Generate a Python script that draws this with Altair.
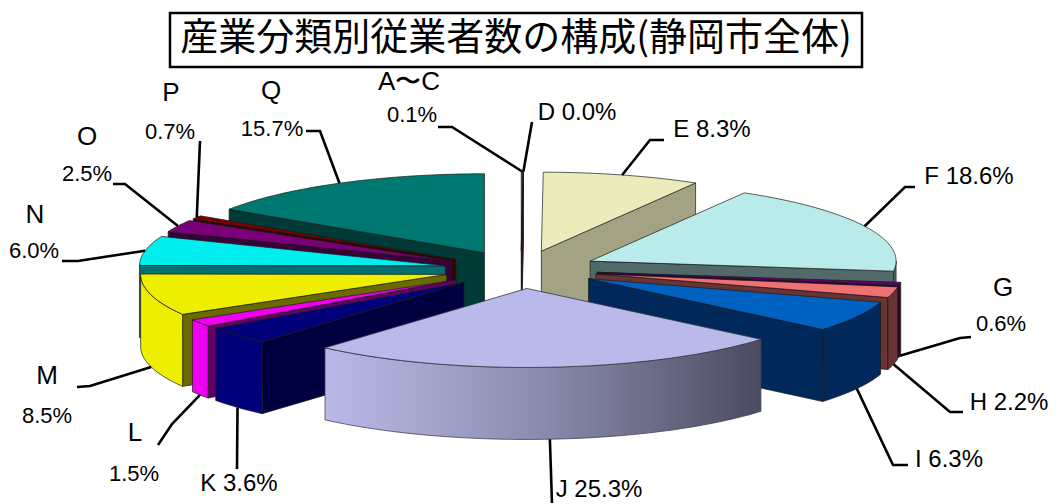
import math
import altair as alt

# ---- data ----
codes = ["A~C", "D", "E", "F", "G", "H", "I", "J", "K", "L", "M", "N", "O", "P", "Q"]
shares = [0.1, 0.0, 8.3, 18.6, 0.6, 2.2, 6.3, 25.3, 3.6, 1.5, 8.5, 6.0, 2.5, 0.7, 15.7]
title_text = "産業分類別従業者数の構成(静岡市全体)"

# ---- styles ----
top_colors = ["#7a2060", "#7a2060", "#ecebbb", "#b9ebea", "#66006e", "#ee7272", "#0062c0", "#b9b9ea",
              "#00007a", "#f000f0", "#eeee00", "#00eeee", "#7a007a", "#7a0000", "#007872"]
cut_colors = ["#3a1030", "#3a1030", "#a3a383", "#52696a", "#33003a", "#6a3434", "#00285a", "#5a5a78",
              "#000040", "#660066", "#6a6a00", "#007070", "#3a003a", "#3a0000", "#003a36"]
rim_colors = ["#3a1030", "#3a1030", "#a3a383", "#52696a", "#33003a", "#6a3434", "#00285a", "#8c8cb0",
              "#00007a", "#f000f0", "#eeee00", "#00eeee", "#7a007a", "#7a0000", "#003a36"]
draw_order = ["Q", "A~C", "D", "E", "F", "G", "H", "I", "P", "O", "N", "M", "L", "K", "J"]

# ---- pie projection (page pixels) ----
CX, CY, RX, RY, DEPTH, EX, EY = 521.0, 269.5, 306.0, 79.0, 72.0, 77.0, 19.0
TOTAL = sum(shares)

cum = []
run = 0.0
for s in shares:
    cum.append((run, run + s))
    run += s
spans = {c: (a / TOTAL * 360.0, b / TOTAL * 360.0) for c, (a, b) in zip(codes, cum)}


def apex(code):
    a, b = spans[code]
    m = math.radians((a + b) / 2)
    return (CX + EX * math.sin(m), CY - EY * math.cos(m))


def rim(code, deg, drop=0.0):
    ax, ay = apex(code)
    t = math.radians(deg)
    return [ax + RX * math.sin(t), ay - RY * math.cos(t) + drop]


def arc(code, a, b, drop=0.0):
    n = max(2, int(abs(b - a)) + 2)
    return [rim(code, a + (b - a) * i / (n - 1), drop) for i in range(n)]


def poly(points, fill):
    ring = [list(p) for p in points]
    ring.append(ring[0])
    return {"type": "Feature", "properties": {"fill": fill},
            "geometry": {"type": "Polygon", "coordinates": [ring]}}


def cut_face(code, deg, fill):
    ax, ay = apex(code)
    return poly([[ax, ay], rim(code, deg), rim(code, deg, DEPTH), [ax, ay + DEPTH]], fill)


back_features, j_wall, j_top = [], [], []
for code in draw_order:
    i = codes.index(code)
    a, b = spans[code]
    faces = []
    if a > 180:
        faces.append(cut_face(code, a, cut_colors[i]))
    if b < 180:
        faces.append(cut_face(code, b, cut_colors[i]))
    lo, hi = max(a, 90.0), min(b, 270.0)
    wall = None
    if hi > lo:
        wall = poly(arc(code, lo, hi) + arc(code, hi, lo, DEPTH), rim_colors[i])
    top = poly([list(apex(code))] + arc(code, a, b), top_colors[i])
    if code == "J":
        j_wall.append(wall)
        j_top.append(top)
    else:
        back_features += faces + ([wall] if wall else []) + [top]

# ---- leader lines: two layout points by the label, third point on the slice ----
leader_elbows = {
    "A~C": [(438, 127), (452, 127)], "D": [(532, 122), (532, 122)], "E": [(664, 140), (650, 140)],
    "F": [(915, 187), (905, 187)], "G": [(971, 337), (960, 338)], "H": [(963, 412), (950, 412)],
    "I": [(908, 465), (893, 465)], "J": [(552, 503), (552, 503)], "K": [(237, 469), (237, 469)],
    "L": [(158, 445), (172, 424)], "M": [(77, 387), (90, 386)], "N": [(62, 261), (78, 261)],
    "O": [(113, 184), (125, 184)], "P": [(200, 141), (200, 141)], "Q": [(306, 131), (320, 131)],
}
leaders = []
for code in codes:
    a, b = spans[code]
    m = (a + b) / 2
    end = rim(code, m, DEPTH if 90 < m < 270 else 0.0)
    pts = [list(p) for p in leader_elbows[code]] + [end]
    leaders.append({"type": "Feature", "properties": {"code": code},
                    "geometry": {"type": "LineString", "coordinates": pts}})

# ---- label layout (page pixels, centre of each text) ----
letter_rows = [("A〜C", 409, 82), ("G", 1003, 288), ("L", 135, 433), ("M", 47, 376), ("N", 35, 215),
               ("O", 87, 137), ("P", 171, 93), ("Q", 271, 91)]
pair_rows = [("D 0.0%", 577, 113), ("E 8.3%", 712, 130), ("F 18.6%", 969, 177), ("H 2.2%", 1009, 403),
             ("I 6.3%", 949, 460), ("J 25.3%", 599, 490), ("K 3.6%", 239, 484)]
share_rows = [("0.1%", 412, 115), ("0.6%", 1001, 324), ("1.5%", 134, 474), ("8.5%", 47, 416),
              ("6.0%", 34, 251), ("2.5%", 87, 174), ("0.7%", 170, 132), ("15.7%", 272, 129)]

proj = dict(type="identity", scale=1, translate=[-8, -8])
none_x = alt.X("x:Q", scale=None, axis=None)
none_y = alt.Y("y:Q", scale=None, axis=None)


def text_layer(rows, size):
    vals = [{"t": t, "x": x - 8, "y": y - 8} for t, x, y in rows]
    return (
        alt.Chart(alt.InlineData(values=vals))
        .mark_text(font="Liberation Sans", fontSize=size, color="#000000", align="center", baseline="middle")
        .encode(x=none_x, y=none_y, text="t:N")
    )


base_layer = (
    alt.Chart(alt.InlineData(values=back_features))
    .mark_geoshape(stroke="#1a1a1a", strokeWidth=0.7)
    .encode(fill=alt.Fill("properties.fill:N", scale=None, legend=None))
    .project(**proj)
)
j_wall_layer = (
    alt.Chart(alt.InlineData(values=j_wall))
    .mark_geoshape(
        stroke="#444455", strokeWidth=0.8,
        fill=alt.Gradient(
            gradient="linear", x1=0, x2=1, y1=0, y2=0,
            stops=[
                alt.GradientStop(color="#b9b9e8", offset=0),
                alt.GradientStop(color="#a3a3cb", offset=0.25),
                alt.GradientStop(color="#8a8aae", offset=0.5),
                alt.GradientStop(color="#6c6c88", offset=0.75),
                alt.GradientStop(color="#4a4a60", offset=1),
            ],
        ),
    )
    .project(**proj)
)
j_top_layer = (
    alt.Chart(alt.InlineData(values=j_top))
    .mark_geoshape(stroke="#333344", strokeWidth=0.8)
    .encode(fill=alt.Fill("properties.fill:N", scale=None, legend=None))
    .project(**proj)
)
leader_layer = (
    alt.Chart(alt.InlineData(values=leaders))
    .mark_geoshape(filled=False, stroke="#000000", strokeWidth=2.6)
    .project(**proj)
)
title_box = (
    alt.Chart(alt.InlineData(values=[{"x": 162, "x2": 854, "y": 5, "y2": 59}]))
    .mark_rect(fill="#ffffff", stroke="#000000", strokeWidth=2.5)
    .encode(x=none_x, x2="x2:Q", y=none_y, y2="y2:Q")
)
title_layer = (
    alt.Chart(alt.InlineData(values=[{"t": title_text, "x": 508, "y": 31}]))
    .mark_text(font="Noto Sans CJK JP", fontSize=38, color="#000000", align="center", baseline="middle")
    .encode(x=none_x, y=none_y, text="t:N")
)

chart = alt.layer(
    base_layer, j_wall_layer, j_top_layer, leader_layer, title_box, title_layer,
    text_layer(letter_rows, 26), text_layer(pair_rows, 24), text_layer(share_rows, 22),
).properties(
    width=1040, height=496, padding=0, autosize=alt.AutoSizeParams(type="none"), background="#ffffff"
).configure_view(stroke=None)

chart.save("out.html", embed_options={"renderer": "svg", "actions": False})
